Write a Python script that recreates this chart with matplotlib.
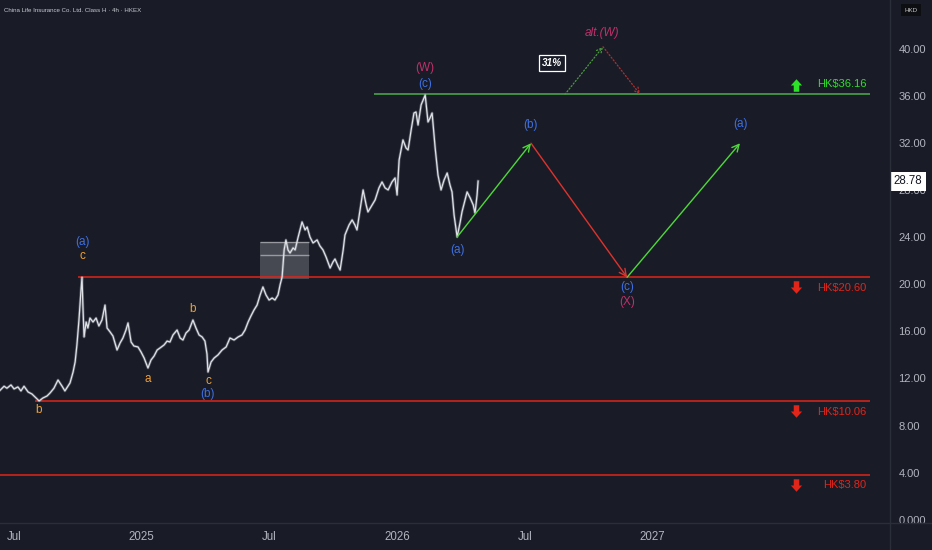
import matplotlib
matplotlib.use('Agg')
import matplotlib.pyplot as plt
from matplotlib.path import Path
from matplotlib.lines import Line2D
from matplotlib.patches import Rectangle
import matplotlib.transforms as mtrans

# ---------------- data ----------------
title = "China Life Insurance Co. Ltd. Class H · 4h · HKEX"

price_t = [2024.446, 2024.462, 2024.473, 2024.489, 2024.501, 2024.516, 2024.528, 2024.540, 2024.556, 2024.571,
           2024.583, 2024.599, 2024.614, 2024.630, 2024.642, 2024.657, 2024.673, 2024.689, 2024.700, 2024.712,
           2024.720, 2024.732, 2024.740, 2024.747, 2024.755, 2024.763, 2024.767, 2024.771, 2024.775, 2024.783,
           2024.790, 2024.798, 2024.810, 2024.822, 2024.833, 2024.845, 2024.857, 2024.865, 2024.877, 2024.888,
           2024.904, 2024.916, 2024.927, 2024.939, 2024.947, 2024.959, 2024.970, 2024.986, 2024.998, 2025.010,
           2025.025, 2025.037, 2025.049, 2025.061, 2025.072, 2025.088, 2025.100, 2025.111, 2025.123, 2025.139,
           2025.151, 2025.162, 2025.174, 2025.186, 2025.201, 2025.213, 2025.225, 2025.237, 2025.248, 2025.256,
           2025.260, 2025.272, 2025.284, 2025.299, 2025.315, 2025.331, 2025.346, 2025.362, 2025.378, 2025.393,
           2025.405, 2025.417, 2025.428, 2025.440, 2025.452, 2025.464, 2025.475, 2025.487, 2025.499, 2025.511,
           2025.522, 2025.534, 2025.542, 2025.550, 2025.558, 2025.565, 2025.573, 2025.581, 2025.593, 2025.601,
           2025.612, 2025.628, 2025.640, 2025.648, 2025.659, 2025.671, 2025.687, 2025.698, 2025.710, 2025.722,
           2025.738, 2025.749, 2025.757, 2025.769, 2025.777, 2025.789, 2025.796, 2025.812, 2025.824, 2025.835,
           2025.843, 2025.855, 2025.867, 2025.879, 2025.886, 2025.902, 2025.914, 2025.929, 2025.941, 2025.953,
           2025.965, 2025.980, 2025.992, 2026.000, 2026.008, 2026.023, 2026.035, 2026.043, 2026.055, 2026.066,
           2026.074, 2026.082, 2026.094, 2026.102, 2026.110, 2026.121, 2026.129, 2026.137, 2026.149, 2026.160,
           2026.172, 2026.184, 2026.196, 2026.207, 2026.215, 2026.223, 2026.235, 2026.247, 2026.254, 2026.266,
           2026.274, 2026.286, 2026.298, 2026.305, 2026.313, 2026.317]

price_v = [10.99, 11.34, 11.17, 11.45, 11.11, 11.28, 10.94, 11.34, 10.85, 10.68,
           10.43, 10.09, 10.34, 10.51, 10.77, 11.17, 11.87, 11.34, 10.94, 11.34,
           11.62, 12.55, 13.40, 14.85, 16.97, 19.52, 20.60, 17.82, 15.53, 16.80,
           16.29, 17.14, 16.80, 17.14, 16.46, 16.97, 18.24, 16.29, 15.95, 15.61,
           14.42, 15.02, 15.44, 16.12, 16.72, 15.10, 14.76, 14.68, 14.25, 13.74,
           12.89, 13.57, 13.91, 14.42, 14.59, 14.85, 15.18, 15.10, 15.70, 16.12,
           15.44, 15.27, 15.87, 16.12, 16.97, 16.29, 15.70, 15.53, 15.18, 14.08,
           12.55, 13.40, 13.74, 14.00, 14.42, 14.68, 15.44, 15.27, 15.53, 15.70,
           16.12, 16.80, 17.31, 17.82, 18.24, 19.10, 19.78, 19.10, 18.67, 18.84,
           18.67, 19.10, 19.95, 20.63, 22.93, 23.78, 22.93, 22.67, 23.10, 22.93,
           23.95, 25.31, 24.63, 24.88, 24.03, 23.52, 23.78, 23.27, 22.93, 22.33,
           21.39, 21.90, 22.16, 21.56, 21.22, 22.93, 24.20, 25.05, 25.48, 25.05,
           24.63, 26.33, 28.03, 26.75, 26.16, 26.75, 27.18, 28.20, 28.71, 28.20,
           28.03, 28.71, 29.05, 27.60, 30.58, 32.28, 31.60, 31.43, 33.13, 34.57,
           34.66, 33.55, 35.26, 35.68, 36.10, 33.81, 34.15, 34.57, 31.60, 29.30,
           28.03, 28.88, 29.47, 28.45, 27.86, 25.90, 24.03, 25.31, 26.16, 27.18,
           27.86, 27.35, 26.75, 26.07, 27.60, 28.78]

last_price = 28.78

# key levels
level_values = [36.16, 20.60, 10.06, 3.80]
level_labels = ["HK$36.16", "HK$20.60", "HK$10.06", "HK$3.80"]
level_start = [2025.910, 2024.751, 2024.583, 2024.446]
level_end = 2027.851
level_up = [True, False, False, False]

# projected path (a) -> (b) -> (c) -> (a)
proj_t = [2026.235, 2026.524, 2026.900, 2027.342]
proj_v = [24.03, 32.00, 20.60, 32.00]
proj_colors = ['#4fd83a', '#e0322c', '#4fd83a']

# alternative (W) path
alt_t = [2026.657, 2026.806, 2026.951]
alt_v = [36.16, 40.20, 36.16]
alt_prob = "31%"

# consolidation box
box_t = [2025.464, 2025.656]
box_v = [20.47, 23.61]
box_mid = 22.50

# wave labels: text, t, value, colour key
wave_labels = [
    ("(a)", 2024.767, 23.61, 'blue'), ("c", 2024.767, 22.41, 'orange'),
    ("b", 2024.595, 9.32, 'orange'), ("a", 2025.025, 11.96, 'orange'),
    ("b", 2025.201, 17.91, 'orange'), ("c", 2025.260, 11.79, 'orange'),
    ("(b)", 2025.260, 10.68, 'blue'),
    ("(W)", 2026.110, 38.40, 'magenta'), ("(c)", 2026.110, 37.04, 'blue'),
    ("(a)", 2026.235, 22.93, 'blue'), ("(b)", 2026.524, 33.55, 'blue'),
    ("(c)", 2026.900, 19.78, 'blue'), ("(X)", 2026.900, 18.50, 'magenta'),
    ("(a)", 2027.342, 33.64, 'blue'),
]

x_ticks = [2024.5, 2025.0, 2025.5, 2026.0, 2026.5, 2027.0]
x_tick_labels = ["Jul", "2025", "Jul", "2026", "Jul", "2027"]
y_ticks = [0, 4, 8, 12, 16, 20, 24, 28, 32, 36, 40]

# ---------------- style ----------------
BG = '#191c27'
TXT = '#b2b5be'
COL = {'blue': '#3f6fe0', 'orange': '#f0a030', 'magenta': '#c0306a'}
GREEN_LINE = '#4caf50'
GREEN_TXT = '#2fe02a'
RED = '#e0251b'
plt.rcParams['font.family'] = ['Liberation Sans Narrow', 'Liberation Sans', 'DejaVu Sans']

W, H = 932, 550
fig = plt.figure(figsize=(W / 100, H / 100), dpi=100, facecolor=BG)
ax = fig.add_axes([0, 27 / H, 890 / W, 523 / H], facecolor=BG)
ax.set_xlim(2024.446, 2027.929)
ax.set_ylim(-0.289, 44.18)
for s in ax.spines.values():
    s.set_visible(False)

ax.yaxis.tick_right()
ax.set_yticks(y_ticks)
ax.set_yticklabels(["0.000"] + ["%.2f" % v for v in y_ticks[1:]])
ax.tick_params(axis='y', length=0, pad=6, labelsize=8.0, labelcolor=TXT)
ax.set_xticks(x_ticks)
ax.set_xticklabels(x_tick_labels)
ax.tick_params(axis='x', length=0, pad=6, labelsize=8.3, labelcolor=TXT)

# separators
fig.add_artist(Line2D([890 / W, 890 / W], [0, 1], color='#2a2e39', lw=1))
fig.add_artist(Line2D([0, 1], [27 / H, 27 / H], color='#2a2e39', lw=1))

# consolidation box
ax.add_patch(Rectangle((box_t[0], box_v[0]), box_t[1] - box_t[0], box_v[1] - box_v[0],
                       facecolor='#ffffff', alpha=0.2, edgecolor='none', zorder=2))
ax.hlines([box_v[1], box_mid], box_t[0], box_t[1], color='#ffffff', alpha=0.45, lw=1, zorder=2)

# levels
for v, lab, st, up in zip(level_values, level_labels, level_start, level_up):
    c = GREEN_LINE if up else RED
    ax.hlines(v, st, level_end, color=c, lw=1.1, zorder=3)
    tc = GREEN_TXT if up else RED
    ty = v + 0.85 if up else v - 0.88
    ax.text(2027.836, ty, lab, color=tc, fontsize=8.0, ha='right', va='center', zorder=5)

arrow_up = Path([(-0.22, -0.5), (0.22, -0.5), (0.22, 0.0), (0.45, 0.0), (0.0, 0.5),
                 (-0.45, 0.0), (-0.22, 0.0), (-0.22, -0.5)])
arrow_dn = Path([(x, -y) for x, y in arrow_up.vertices])
for v, up in zip(level_values, level_up):
    if up:
        ax.plot(2027.562, v + 0.8, marker=arrow_up, ms=9, color=GREEN_TXT, mec='none', zorder=5)
    else:
        ax.plot(2027.562, v - 0.85, marker=arrow_dn, ms=9, color=RED, mec='none', zorder=5)

# price
ax.plot(price_t, price_v, color='#d1d4dc', lw=2.0, alpha=0.3, zorder=4)
ax.plot(price_t, price_v, color='#e0e2e8', lw=0.9, zorder=4)

# projections
for i in range(3):
    ax.annotate('', xy=(proj_t[i + 1], proj_v[i + 1]), xytext=(proj_t[i], proj_v[i]),
                arrowprops=dict(arrowstyle='->,head_length=0.5,head_width=0.25', color=proj_colors[i],
                                lw=1.0, shrinkA=0, shrinkB=0), zorder=4)

# alternative path
ax.annotate('', xy=(alt_t[1], alt_v[1]), xytext=(alt_t[0], alt_v[0]),
            arrowprops=dict(arrowstyle='->,head_length=0.4,head_width=0.2', color='#4c9a40',
                            lw=0.9, ls=':', shrinkA=0, shrinkB=0), zorder=4)
ax.annotate('', xy=(alt_t[2], alt_v[2]), xytext=(alt_t[1], alt_v[1]),
            arrowprops=dict(arrowstyle='->,head_length=0.4,head_width=0.2', color='#b03030',
                            lw=0.9, ls=':', shrinkA=0, shrinkB=0), zorder=4)
ax.text(alt_t[1] - 0.003, 41.4, "alt.(W)", color=COL['magenta'], fontsize=8.5, style='italic',
        ha='center', va='center', zorder=5)
ax.text(2026.607, 38.85, alt_prob, color='white', fontsize=7.2, fontweight='bold', style='italic',
        ha='center', va='center', zorder=5,
        bbox=dict(boxstyle='square,pad=0.3', facecolor=BG, edgecolor='white', lw=0.9))

# wave labels
for txt, t, v, ck in wave_labels:
    ax.text(t, v, txt, color=COL[ck], fontsize=8.5, ha='center', va='center', zorder=5)

# title
fig.text(4 / W, 1 - 10 / H, title, color='#c8cad0', fontsize=4.4, ha='left', va='center')

# last price tag
tr = mtrans.blended_transform_factory(fig.transFigure, ax.transData)
ax.text(908 / W, last_price, "%.2f" % last_price, transform=tr, color='#131722', fontsize=8.3,
        ha='center', va='center', zorder=10, clip_on=False,
        bbox=dict(boxstyle='square,pad=0.3', facecolor='white', edgecolor='none'))

# currency box
fig.text(911 / W, 1 - 10 / H, "HKD", color='#c8c8c8', fontsize=4.5, ha='center', va='center',
         bbox=dict(boxstyle='square,pad=0.6', facecolor='#0d0e12', edgecolor='none'))

fig.savefig('out.png', dpi=100, facecolor=BG)
